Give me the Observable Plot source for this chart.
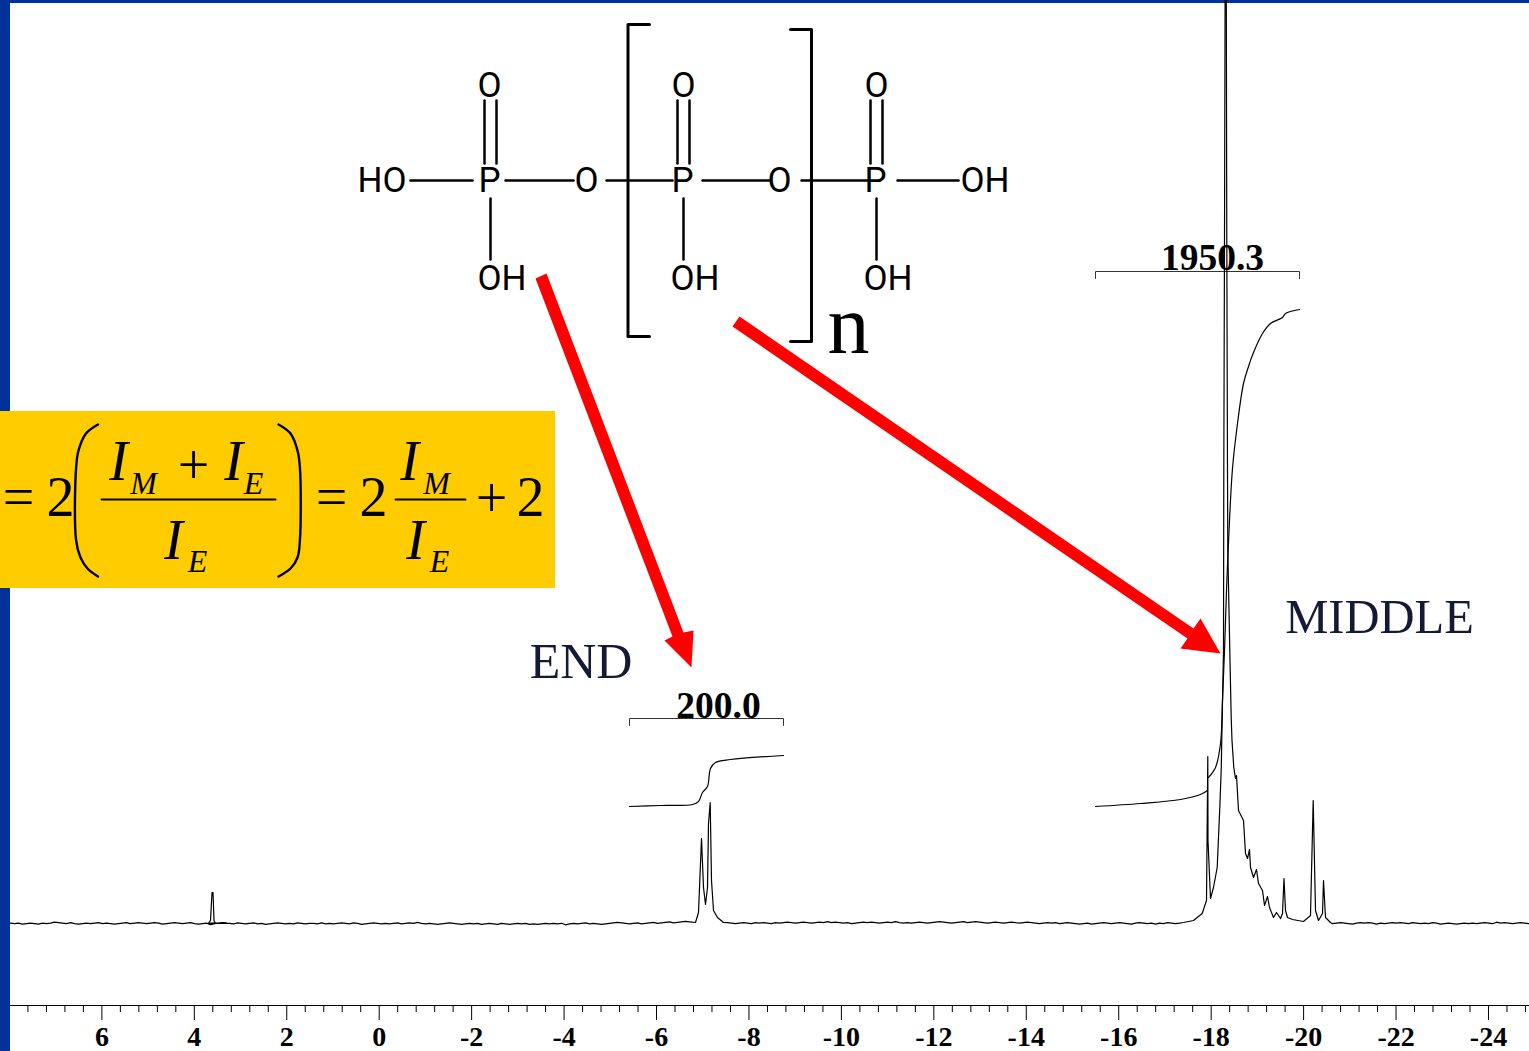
<!DOCTYPE html>
<html><head><meta charset="utf-8">
<script src="https://cdn.jsdelivr.net/npm/d3@7"></script>
<script src="https://cdn.jsdelivr.net/npm/@observablehq/plot@0.6"></script>
<style>html,body{margin:0;padding:0;background:#fff;overflow:hidden}svg{display:block}</style>
</head><body><div id="chart"></div>
<script>
// Spectrum readings: baseline rises sampled every few columns, and [picture column, picture row] for peaks.
const baselineA = [1,.5,1,0,.5,1,.5,0,1,.5,1,2,1.5,1,.5,1.5,.5,0,.5,1,.5,1,1.5,.5,1,.5,0,.5,1,1.5,.5,1,1.5,1,.5,1,1.5,1,0,.5,1,1.5,1,.5,1,1.5,.5,0,.5,1,-.5,.5,1,1.5,1];
const baselineB = [1,.5,1.5,1,.5,1,1.5,.5,1,0,.5,1,1.5,1,.5,1,.5,1.5,1,.5,1,1,.5,1.5,.5,1,.5,1,1.5,1,.5,1.5,1,0,.5,1,1.5,1,.5,1,.5,1,1.5,.5,1,1.5,1,2,1,.5,1,.5,0,.5,1,1.5,1,.5,0,.5,1,.5,1,0,.5,1,.5,0,1,.5,0,.5,1,.5,1,0,.5,0,.5,1,.5,1,.5,1,-.5,.5,1,.5,1,1.5,.5,1,.5,0,.5,1,1.5,2,1.5,1,.5,1,1.5,.5,1,1.5,2,1,1.5,2,2.5,1.5,2,2.5,3,2.5];
const baselineC = [1,.5,0,.5,1,.5,0,1,.5,1,.5,0,1,.5,1,1.5,1,.5,1,1.5,1,.5,1,1.5,1,2,1,1.5,1,.5,1,0,.5,1,1.5,1,1.5,1,.5,1,1.5,1,2,1,.5,1,.5,1,1.5,1,.5,1,1.5,2,1.5,1,.5,1,1.5,2,1,1.5,2,1.5,1,.5,1,1.5,1,.5,1,1.5,1,.5,1,1.5,1,.5,0,.5,1,.5,1,0,.5,1,.5,0,-.5,0,.5,-.5,0,.5,1,.5,0,.5,1,.5,0,-.5,.5,1,.5,0,.5,-.5,.5,0,1,.5,0,.5,-.5,.5];
const baselineD = [0,.5,1,.5,0,-.5,.5,1,.5,1,.5,-.5,.5,0,.5,1,.5,1,.5,0,1,.5,0,.5,0,1,.5,-.5,0,.5,0,-.5,0,.5,0,.5,0,.5,1,.5,0,1.5,.5,1,.5,0,.5,1,.5,0,.5];
const baselineStep = 4;

const peak212 = [[208,922.5],[210,920],[211.5,892],[212.5,892],[213.5,920],[215,923]];
const endPeaks = [[695,922],[698,912],[701,838],[703,887],[705,904],[707,887],[708,823],[709.7,802],[711,880],[713,910],[717,917],[723,922]];
const middleRise = [[1183,922],[1193,920],[1201.7,913],[1206,900],[1207.3,756],[1207.5,840],[1210,898],[1213,887],[1216.7,867],[1219.3,807],[1220.7,770],[1221.7,717],[1223,650],[1223.3,470],[1224,240],[1224.6,-5]];
const middleFall = [[1225.8,-5],[1226.3,240],[1227,470],[1227.3,550],[1229.3,650],[1230.7,717],[1231.5,740],[1233.3,767],[1235,778],[1236,775],[1238,810],[1243,820],[1245,853],[1247,858],[1249,849],[1250,867],[1253,877],[1256,869],[1258,883],[1262,890],[1264,905],[1267,896],[1269,907],[1273,917],[1276,912],[1280,918],[1282,913],[1283.5,878],[1285,910],[1287,917],[1292,919],[1303,921],[1310,915],[1312.7,800],[1315,910],[1318,920],[1322,913],[1323,880],[1325,917],[1330,922]];

const integralEnd = [[629,806],[660,805],[692,804],[698,801],[702,792],[707,786],[710,768],[715,762],[730,759],[783,755]];
const integralMiddleLow = [[1095,806],[1140,803],[1180,799],[1200,794],[1207,790]];
const integralMiddleHigh = [[1208,777],[1215,767],[1220,743],[1222,700],[1224,650],[1226,590],[1229,520],[1232,468],[1237,423],[1243,383],[1248,366],[1253,352],[1262,333],[1270,323],[1282,317],[1285,313],[1299,309]];
const bracketEnd = [[629,725],[629,718],[783,718],[783,725]];
const bracketMiddle = [[1095,278],[1095,271],[1299,271],[1299,278]];

const majorTicks = [6,4,2,0,-2,-4,-6,-8,-10,-12,-14,-16,-18,-20,-22,-24];
const minorTicks = [7.6,7.2,6.8,6.4,5.6,5.2,4.8,4.4,3.6,3.2,2.8,2.4,1.6,1.2,.8,.4,-.4,-.8,-1.2,-1.6,-2.4,-2.8,-3.2,-3.6,-4.4,-4.8,-5.2,-5.6,-6.4,-6.8,-7.2,-7.6,-8.4,-8.8,-9.2,-9.6,-10.4,-10.8,-11.2,-11.6,-12.4,-12.8,-13.2,-13.6,-14.4,-14.8,-15.2,-15.6,-16.4,-16.8,-17.2,-17.6,-18.4,-18.8,-19.2,-19.6,-20.4,-20.8,-21.2,-21.6,-22.4,-22.8,-23.2,-23.6,-24.4,-24.8];

const arrowEnd = [[535,278],[546,273],[683,632],[693,630],[691,667],[664,640],[672,636]];
const arrowMiddle = [[732,326],[739,316],[1193,628],[1200,618],[1220,653],[1180,648],[1187,638]];

// Molecule
const singleBonds = [
  [[410,180],[472,180]],[[505,180],[573,180]],[[606,180],[672,180]],[[702,180],[769,180]],[[801,180],[868,180]],[[897,180],[958,180]],
  [[490,198],[490,259]],[[683,198],[683,259]],[[876,198],[876,259]],
  [[484,100],[484,163]],[[496,100],[496,163]],[[677,100],[677,163]],[[689,100],[689,163]],[[870,100],[870,163]],[[882,100],[882,163]]
];
const brackets = [
  [[649,24],[627.5,24],[627.5,336],[649,336]],
  [[790,29],[811,29],[811,341],[790,341]]
];
const atomsMiddle = [["O",489,96],["P",489,191],["O",586,191],["O",683,96],["P",682,191],["O",779,191],["O",876,96],["P",875,191]];
const atomsStart = [["OH",477,289],["OH",670,289],["OH",863,289],["OH",960,191]];
const atomsEnd = [["HO",406,191]];

// Formula
const formulaUpright = [["=",18,515],["2",60,515],["+",193,483],["=",331,515],["2",373,515],["+",491,516],["2",530,515]];
const formulaBig = [["I",118,479],["I",233,479],["I",173,558],["I",409,479],["I",415,558]];
const formulaSub = [["M",143,493],["E",253,493],["E",197,571],["M",436,493],["E",439,571]];
const fractionRules = [[[101,499],[275,499]],[[395,499],[465,499]]];
const parens = [
  [[97.5,424],[85.5,433],[78,450],[75.6,467],[75.6,540],[80,557],[87,568],[97.5,576]],
  [[278,424],[290,433],[297,450],[299.4,467],[299.4,540],[297,557],[290,568],[278,576]]
];

// Picture position -> data units
const ppm = px => (378.7 - px) / 46.22;
const rise = py => 923 - py;
const pt = ([px, py]) => ({x: ppm(px), y: rise(py)});
const lab = ([t, px, py]) => ({t, x: ppm(px), y: rise(py)});

const trace = (vals, start, level) => vals.map((v, i) => [start + i * baselineStep, level - v]);
const spectrum = [
  ...trace(baselineA, 10, 923.6),
  ...peak212,
  ...trace(baselineB, 229, 923.8).filter(d => d[0] < 692),
  ...endPeaks,
  ...trace(baselineC, 727, 923.2).filter(d => d[0] < 1180),
  ...middleRise, ...middleFall,
  ...trace(baselineD, 1332, 923.2)
];

const poly = (points, options) => Plot.line(points.map(pt), {x: "x", y: "y", ...options});
const text = (rows, options) => Plot.text(rows.map(lab), {x: "x", y: "y", text: "t", lineAnchor: "bottom", ...options});
const sans = "Roboto, 'Liberation Sans', sans-serif", serif = "'Liberation Serif', serif";
const box = ([a, b, c, d]) => ({a: ppm(a), b: ppm(b), c: rise(c), d: rise(d)});
const rects = (rows, fill) => Plot.rect(rows.map(box), {x1: "a", x2: "b", y1: "c", y2: "d", fill});

const chart = Plot.plot({
  width: 1529, height: 1051,
  marginTop: 0, marginRight: 0, marginBottom: 46, marginLeft: 0,
  style: {background: "#fff", color: "#000"},
  x: {domain: [ppm(0), ppm(1529)], range: [0, 1529], label: null},
  y: {domain: [rise(0), rise(1005)], range: [0, 1005], axis: null},
  marks: [
    rects([[0, 10, 0, 1051], [0, 1529, 0, 3]], "#003399"),
    rects([[0, 555, 411, 588]], "#FFCC00"),
    // axis
    Plot.ruleY([rise(1005)], {x1: ppm(10), x2: ppm(1529), stroke: "#000", strokeWidth: 1.2}),
    Plot.ruleX(minorTicks, {y1: rise(1005), y2: rise(1012), stroke: "#000", strokeWidth: 1}),
    Plot.axisX({ticks: majorTicks, tickSize: 15, tickPadding: 6, tickFormat: d => String(d), label: null, fontFamily: serif, fontWeight: "bold", fontSize: 28}),
    // integrals
    text([["200.0", 718, 717], ["1950.3", 1212, 269]], {textAnchor: "middle", fontFamily: serif, fontWeight: "bold", fontSize: 37.5, fill: "#000"}),
    poly(bracketEnd, {stroke: "#333", strokeWidth: 1}),
    poly(bracketMiddle, {stroke: "#333", strokeWidth: 1}),
    poly(integralEnd, {stroke: "#000", strokeWidth: 1.2, curve: "catmull-rom"}),
    poly(integralMiddleLow, {stroke: "#000", strokeWidth: 1.2, curve: "catmull-rom"}),
    poly(integralMiddleHigh, {stroke: "#000", strokeWidth: 1.2, curve: "catmull-rom"}),
    // spectrum
    poly(spectrum, {stroke: "#000", strokeWidth: 1.2}),
    // labels
    text([["END", 580.5, 677]], {textAnchor: "middle", fontFamily: serif, fontSize: 50, fill: "#141a33"}),
    text([["MIDDLE", 1379, 632]], {textAnchor: "middle", fontFamily: serif, fontSize: 48.5, fill: "#141a33"}),
    // molecule
    ...singleBonds.map(b => poly(b, {stroke: "#000", strokeWidth: 2.5})),
    ...brackets.map(b => poly(b, {stroke: "#000", strokeWidth: 3})),
    text(atomsMiddle, {textAnchor: "middle", fontFamily: sans, fontSize: 35, fill: "#000"}),
    text(atomsStart, {textAnchor: "start", fontFamily: sans, fontSize: 35, fill: "#000"}),
    text(atomsEnd, {textAnchor: "end", fontFamily: sans, fontSize: 35, fill: "#000"}),
    text([["n", 848, 352]], {textAnchor: "middle", fontFamily: serif, fontSize: 84, fill: "#000"}),
    // arrows
    poly(arrowEnd, {fill: "#ff0000", stroke: "none"}),
    poly(arrowMiddle, {fill: "#ff0000", stroke: "none"}),
    // formula
    text(formulaUpright, {textAnchor: "middle", fontFamily: serif, fontSize: 56, fill: "#000"}),
    text(formulaBig, {textAnchor: "middle", fontFamily: serif, fontStyle: "italic", fontSize: 56, fill: "#000"}),
    text(formulaSub, {textAnchor: "middle", fontFamily: serif, fontStyle: "italic", fontSize: 32, fill: "#000"}),
    ...fractionRules.map(b => poly(b, {stroke: "#000", strokeWidth: 2})),
    ...parens.map(b => poly(b, {stroke: "#000", strokeWidth: 2.4, curve: "catmull-rom"}))
  ]
});
document.getElementById("chart").append(chart);
</script></body></html>
